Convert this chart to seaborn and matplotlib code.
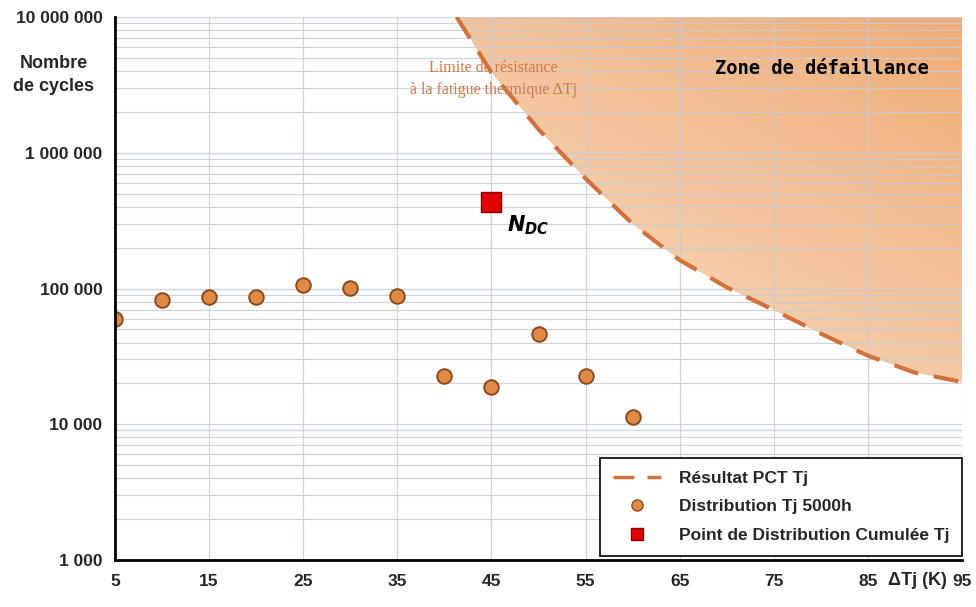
import numpy as np
import pandas as pd
import matplotlib
matplotlib.use("Agg")
import matplotlib.pyplot as plt
from matplotlib.ticker import FixedLocator, FuncFormatter, LogLocator, NullFormatter
from matplotlib.path import Path
from matplotlib.patches import PathPatch
from matplotlib.lines import Line2D
import seaborn as sns

# ---- data ----
dist_dtj = [5, 10, 15, 20, 25, 30, 35, 40, 45, 50, 55, 60]
dist_cycles = [60000, 82000, 86000, 86000, 107000, 101000, 88500, 22700, 18700, 46000, 22700, 11400]

ndc_dtj = [45]
ndc_cycles = [432000]

pct_dtj = [41.3, 45, 50, 55, 60, 65, 70, 75, 80, 85, 90, 95]
pct_cycles = [1.0e7, 3.9e6, 1.49e6, 645000, 299000, 162000, 102000, 69500, 46500, 32000, 24000, 20500]

x_ticks = [5, 15, 25, 35, 45, 55, 65, 75, 85, 95]
y_ticks = [1e3, 1e4, 1e5, 1e6, 1e7]

sns.set_style("white")
plt.rcParams["font.family"] = ["Liberation Sans", "DejaVu Sans"]

fig = plt.figure(figsize=(9.76, 6.07), dpi=100)
ax = fig.add_axes([0.1178, 0.0774, 0.8679, 0.8946])
ax.set_yscale("log")
ax.set_xlim(5, 95)
ax.set_ylim(1e3, 1e7)

# grid
grid_c = "#c6ccd8"
ax.xaxis.set_major_locator(FixedLocator(x_ticks))
ax.yaxis.set_major_locator(FixedLocator(y_ticks))
ax.yaxis.set_minor_locator(LogLocator(base=10, subs=np.arange(2, 10)))
ax.yaxis.set_minor_formatter(NullFormatter())
ax.grid(True, which="major", axis="both", color=grid_c, lw=0.9, alpha=0.85)
ax.grid(True, which="minor", axis="y", color=grid_c, lw=0.9, alpha=0.85)
ax.set_axisbelow(False)
for gl in ax.get_xgridlines() + ax.get_ygridlines():
    gl.set_zorder(1)
for gl in ax.yaxis.get_minorticklines():
    pass

# failure zone gradient, clipped to area above the curve
curve_df = pd.DataFrame({"dtj": pct_dtj, "cycles": pct_cycles})
poly_x = list(pct_dtj) + [95, pct_dtj[0]]
poly_y = list(pct_cycles) + [1e7, 1e7]
verts = list(zip(poly_x, poly_y)) + [(poly_x[0], poly_y[0])]
patch = PathPatch(Path(verts), facecolor="none", edgecolor="none", transform=ax.transData)
ax.add_patch(patch)
nx, ny = 200, 200
GX, GY = np.meshgrid(np.linspace(0, 1, nx), np.linspace(0, 1, ny))
t = np.clip(0.35 * GX + 0.65 * GY, 0, 1) ** 1.1
light = np.array([251, 232, 214]) / 255.0
dark = np.array([239, 172, 118]) / 255.0
img = light[None, None, :] * (1 - t[..., None]) + dark[None, None, :] * t[..., None]
im = ax.imshow(img, extent=[(pct_dtj[0] - 5) / 90, 1.0, 0.0, 1.0], origin="lower",
               aspect="auto", transform=ax.transAxes, zorder=0.5,
               interpolation="bilinear")
im.set_clip_path(patch)
ax.set_xlim(5, 95)
ax.set_ylim(1e3, 1e7)

# curve
sns.lineplot(data=curve_df, x="dtj", y="cycles", ax=ax, color="#d2713c", lw=3,
             zorder=3, legend=False)
ax.lines[-1].set_dashes([6, 3.8])

# points
dist_df = pd.DataFrame({"dtj": dist_dtj, "cycles": dist_cycles})
sns.scatterplot(data=dist_df, x="dtj", y="cycles", ax=ax, s=110, color="#e08a48",
                edgecolor="#8a4a1c", linewidth=1.4, zorder=4, legend=False)
ndc_df = pd.DataFrame({"dtj": ndc_dtj, "cycles": ndc_cycles})
sns.scatterplot(data=ndc_df, x="dtj", y="cycles", ax=ax, s=190, marker="s",
                color="#e00000", edgecolor="#8a0000", linewidth=1.0, zorder=5,
                legend=False)

# annotations
ax.text(48.9, 2.95e5, r"$\boldsymbol{N}_{\boldsymbol{DC}}$", fontsize=15,
        ha="center", va="center", color="black", zorder=6)
ax.text(45.2, 3.5e6, "Limite de résistance\nà la fatigue thermique ΔTj",
        family=["Liberation Serif", "DejaVu Serif"], fontsize=11.5,
        color="#cf7a45", ha="center", va="center", linespacing=1.45, zorder=6)
ax.text(80.1, 4.2e6, "Zone de défaillance",
        family=["DejaVu Sans Mono"], fontweight="bold", fontsize=13.5,
        color="black", ha="center", va="center", zorder=6)

# axes styling
for s in ["top", "right"]:
    ax.spines[s].set_visible(False)
for s in ["left", "bottom"]:
    ax.spines[s].set_color("black")
    ax.spines[s].set_linewidth(2.0)
    ax.spines[s].set_zorder(7)
ax.tick_params(axis="both", which="major", direction="out", length=5, width=1.8,
               color="black", labelsize=12.5, pad=4)
ax.tick_params(axis="y", which="minor", direction="out", length=3, width=1.3,
               color="black")
ax.tick_params(axis="x", which="major", pad=5)

def yfmt(v, pos):
    return f"{int(round(v)):,}".replace(",", " ")

ax.yaxis.set_major_formatter(FuncFormatter(yfmt))
ax.xaxis.set_major_formatter(FuncFormatter(lambda v, p: f"{int(v)}"))
for lab in ax.get_xticklabels() + ax.get_yticklabels():
    lab.set_fontweight("bold")
ax.set_xlabel("")
ax.set_ylabel("")

fig.text(0.055, 0.876, "Nombre\nde cycles", fontsize=13, fontweight="bold",
         ha="center", va="center", linespacing=1.45)
fig.text(0.940, 0.044, "ΔTj (K)", fontsize=13, fontweight="bold",
         ha="center", va="center")

# legend
handles = [
    Line2D([0], [0], color="#d2713c", lw=2.5, dashes=[6, 3.8]),
    Line2D([0], [0], marker="o", ls="none", markersize=8, markerfacecolor="#e08a48",
           markeredgecolor="#8a4a1c"),
    Line2D([0], [0], marker="s", ls="none", markersize=8, markerfacecolor="#e00000",
           markeredgecolor="#8a0000"),
]
labels = ["Résultat PCT Tj", "Distribution Tj 5000h", "Point de Distribution Cumulée Tj"]
leg = ax.legend(handles, labels, loc="lower right", bbox_to_anchor=(1.0, 0.008),
                frameon=True, fancybox=False, framealpha=1, edgecolor="black",
                prop={"weight": "bold", "size": 12.5}, handlelength=2.8,
                borderpad=0.75, labelspacing=0.75, handletextpad=1.0,
                borderaxespad=0.0)
leg.get_frame().set_linewidth(1.2)
leg.set_zorder(8)

fig.savefig("out.png", dpi=100)
